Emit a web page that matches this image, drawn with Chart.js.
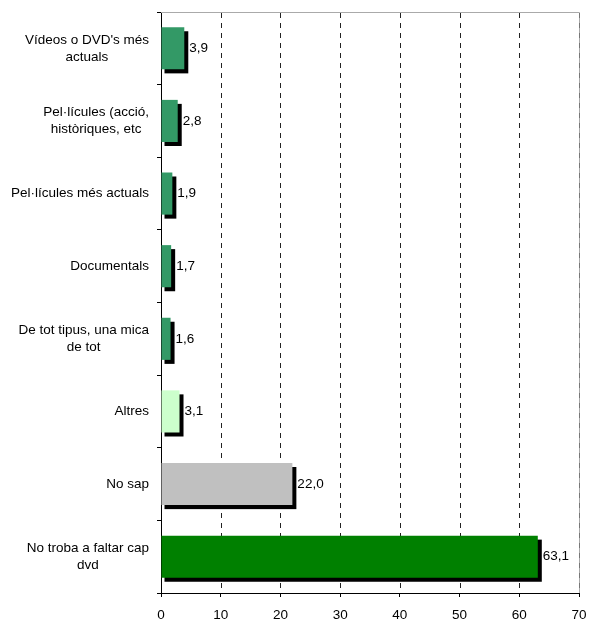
<!DOCTYPE html>
<html>
<head>
<meta charset="utf-8">
<script src="https://cdn.jsdelivr.net/npm/chart.js@4"></script>
<style>
  html, body { margin: 0; padding: 0; background: #fff; }
  #wrap { width: 594px; height: 622px; }
</style>
</head>
<body>
<div id="wrap"><canvas id="myChart" width="594" height="622"></canvas></div>
<script>
// Data
const categories = [
    ["Vídeos o DVD's més", "actuals"],
    ["Pel·lícules (acció,", "històriques, etc"],
    ["Pel·lícules més actuals"],
    ["Documentals"],
    ["De tot tipus, una mica", "de tot"],
    ["Altres"],
    ["No sap"],
    ["No troba a faltar cap", "dvd"]
];
const values = [3.9, 2.8, 1.9, 1.7, 1.6, 3.1, 22.0, 63.1];
const xTicks = [0, 10, 20, 30, 40, 50, 60, 70];

// Bar colours
const barColors = ['#339966', '#339966', '#339966', '#339966', '#339966', '#CCFFCC', '#C0C0C0', '#008000'];

const FONT = '"Liberation Sans", Arial, sans-serif';
const FONT_SIZE = 13.5;

// dashed vertical grid lines, drawn at the x scale's ticks
const gridPlugin = {
    id: 'dashGrid',
    beforeDatasetsDraw(chart) {
        const ctx = chart.ctx;
        const area = chart.chartArea;
        const xScale = chart.scales.x;
        ctx.save();
        ctx.lineWidth = 1;
        // grey frame, top and right
        ctx.strokeStyle = '#aaa';
        ctx.beginPath();
        ctx.moveTo(area.left, area.top + 0.5);
        ctx.lineTo(Math.round(area.right) + 0.5, area.top + 0.5);
        ctx.lineTo(Math.round(area.right) + 0.5, area.bottom);
        ctx.stroke();
        ctx.setLineDash([5, 5]);
        xScale.ticks.forEach(function (t) {
            if (t.value === 0) return;
            const px = Math.round(xScale.getPixelForValue(t.value)) + 0.5;
            ctx.strokeStyle = t.value === 70 ? '#777' : '#222';
            ctx.beginPath();
            ctx.moveTo(px, area.top + 1);
            ctx.lineTo(px, area.bottom);
            ctx.stroke();
        });
        ctx.restore();
    }
};

// black drop shadow behind each bar
const shadowPlugin = {
    id: 'shadow',
    beforeDatasetsDraw(chart) {
        const ctx = chart.ctx;
        const meta = chart.getDatasetMeta(0);
        ctx.save();
        ctx.fillStyle = '#000';
        meta.data.forEach(function (bar) {
            const p = bar.getProps(['x', 'y', 'base', 'height'], true);
            ctx.fillRect(p.base + 3, p.y - p.height / 2 + 4, p.x - p.base + 1, p.height);
        });
        ctx.restore();
    }
};

// value labels and category labels
const labelPlugin = {
    id: 'labels',
    afterDatasetsDraw(chart) {
        const ctx = chart.ctx;
        const meta = chart.getDatasetMeta(0);
        ctx.save();
        ctx.font = FONT_SIZE + 'px ' + FONT;
        ctx.fillStyle = '#000';
        ctx.textBaseline = 'middle';
        ctx.textAlign = 'left';
        meta.data.forEach(function (bar, i) {
            ctx.fillText(values[i].toFixed(1).replace('.', ','), bar.x + 5, bar.y);
        });
        ctx.restore();
    },
    afterDraw(chart) {
        const ctx = chart.ctx;
        const yScale = chart.scales.y;
        ctx.save();
        // category labels: block right aligned, lines centred
        ctx.font = FONT_SIZE + 'px ' + FONT;
        ctx.fillStyle = '#000';
        ctx.textBaseline = 'middle';
        ctx.textAlign = 'center';
        const lh = 17;
        categories.forEach(function (lines, i) {
            const py = yScale.getPixelForTick(i);
            let w = 0;
            lines.forEach(function (l) { w = Math.max(w, ctx.measureText(l).width); });
            const cx = 149 - w / 2;
            lines.forEach(function (l, j) {
                ctx.fillText(l, cx, py - (lines.length - 1) * lh / 2 + j * lh);
            });
        });
        ctx.restore();
    }
};

const ctx = document.getElementById('myChart').getContext('2d');
const myChart = new Chart(ctx, {
    type: 'bar',
    data: {
        labels: categories,
        datasets: [{
            data: values,
            backgroundColor: barColors,
            borderWidth: 0,
            barPercentage: 0.58,
            categoryPercentage: 1
        }]
    },
    options: {
        indexAxis: 'y',
        responsive: false,
        animation: false,
        layout: { padding: { top: 12, right: 15, left: 0, bottom: 0 } },
        plugins: {
            legend: { display: false },
            tooltip: { enabled: false }
        },
        scales: {
            x: {
                min: 0,
                max: 70,
                afterBuildTicks(scale) {
                    scale.ticks = xTicks.map(function (v) { return { value: v }; });
                },
                afterFit(scale) {
                    scale.height = 29;
                    scale.paddingLeft = 0;
                    scale.paddingRight = 0;
                },
                grid: {
                    drawOnChartArea: false,
                    tickColor: '#000',
                    tickLength: 4
                },
                border: { color: '#000' },
                ticks: {
                    color: '#000',
                    padding: 10,
                    font: { family: FONT, size: FONT_SIZE }
                }
            },
            y: {
                afterFit(scale) {
                    scale.width = 161;
                    scale.paddingTop = 0;
                    scale.paddingBottom = 0;
                },
                grid: {
                    offset: true,
                    drawOnChartArea: false,
                    tickColor: '#000',
                    tickLength: 4
                },
                border: { color: '#000' },
                ticks: { display: false }
            }
        }
    },
    plugins: [gridPlugin, shadowPlugin, labelPlugin]
});
</script>
</body>
</html>
